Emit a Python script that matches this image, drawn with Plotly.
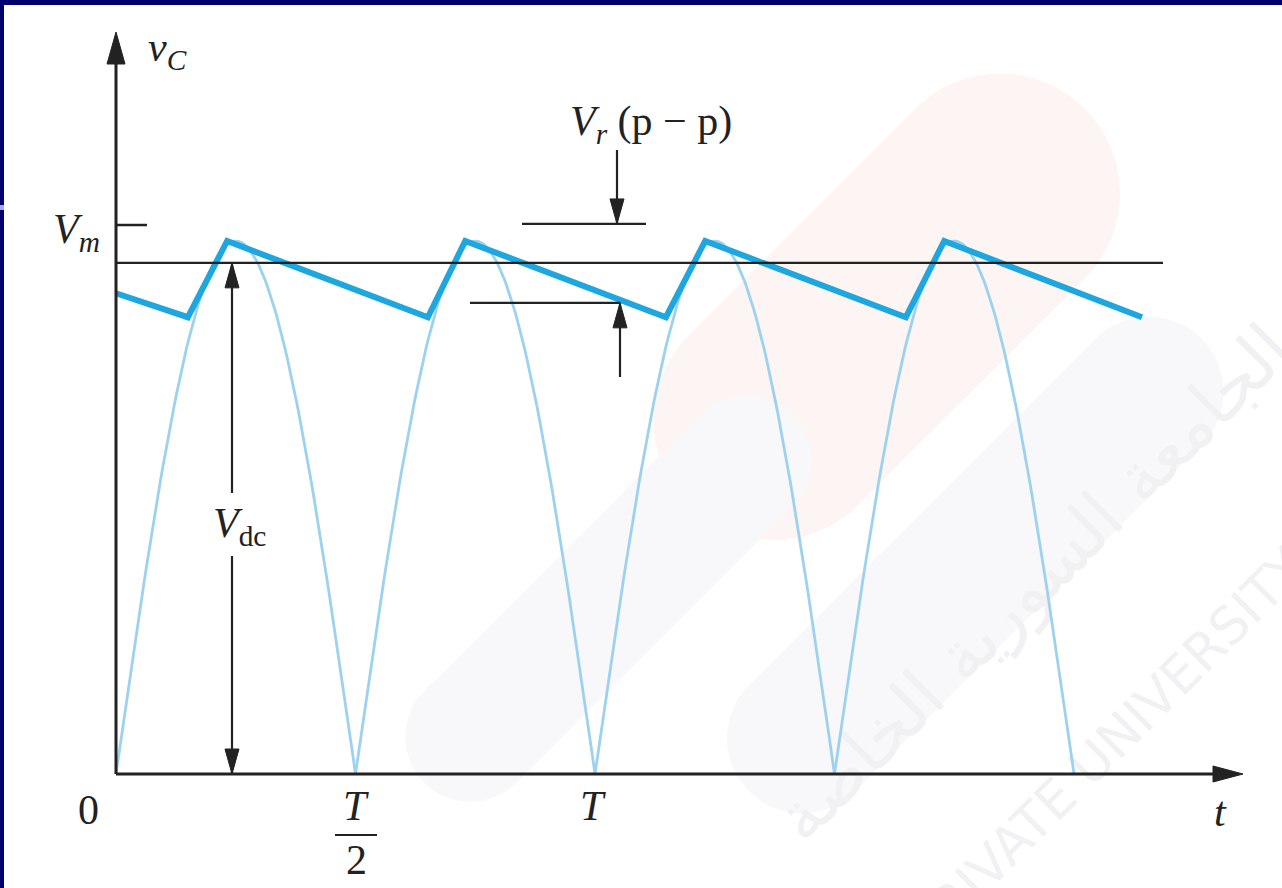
import base64
import numpy as np
import plotly.graph_objects as go

# ---- waveform values (time in units of T, voltage in units of Vm) ----
half_cycle_starts = [0.0, 0.5, 1.0, 1.5]      # zero crossings of the rectified wave
half_cycle_peaks = [1.0, 1.0, 1.0, 1.0]        # peak of each half cycle (Vm)

ripple_t = [0.0, 0.150, 0.232, 0.651, 0.729, 1.148, 1.230, 1.649, 1.729, 2.142]
ripple_v = [0.902, 0.857, 1.0, 0.857, 1.0, 0.857, 1.0, 0.857, 1.0, 0.857]

v_dc = 0.959          # average level line
v_m_mark = 1.03       # Vm tick on the vertical axis
vr_top = 1.032        # upper reference of the peak-to-peak ripple
vr_bottom = 0.884     # lower reference of the peak-to-peak ripple

# ---- canvas geometry ----
W, H = 1282, 888
X0_PX, T_PX = 116, 479        # pixel of t=0 and pixels per period
Y0_PX, V_PX = 774, 533        # pixel of v=0 and pixels per Vm


def X(px):
    return (px - X0_PX) / T_PX


def Y(py):
    return (Y0_PX - py) / V_PX


INK = "#222222"
LIGHT = "#9dd2ee"
BLUE = "#1ea6df"
SERIF = "Liberation Serif, Times New Roman, serif"

fig = go.Figure()

# rectified sine humps
for t0, pk in zip(half_cycle_starts, half_cycle_peaks):
    tt = np.linspace(t0, t0 + 0.5, 120)
    fig.add_trace(go.Scatter(x=tt, y=pk * np.abs(np.sin(2 * np.pi * (tt - t0))),
                             mode="lines", line=dict(color=LIGHT, width=2.8),
                             hoverinfo="skip", showlegend=False))

# capacitor voltage with ripple
fig.add_trace(go.Scatter(x=ripple_t, y=ripple_v, mode="lines",
                         line=dict(color=BLUE, width=6), hoverinfo="skip",
                         showlegend=False))

shapes = []


def line(x0, y0, x1, y1, w=2.2):
    shapes.append(dict(type="line", xref="x", yref="y", x0=x0, y0=y0, x1=x1, y1=y1,
                       line=dict(color=INK, width=w), layer="above"))


def head(x, y, direction, length=25, half=7):
    # filled arrowhead with its tip at (x, y), sized in pixels
    if direction == "up":
        p = f"M0,0 L{-half},{-length} L{half},{-length} Z"
    elif direction == "down":
        p = f"M0,0 L{-half},{length} L{half},{length} Z"
    else:  # right
        p = f"M0,0 L{-length},{half} L{-length},{-half} Z"
    shapes.append(dict(type="path", xref="x", yref="y", xsizemode="pixel",
                       ysizemode="pixel", xanchor=x, yanchor=y, path=p,
                       fillcolor=INK, line=dict(color=INK, width=1), layer="above"))


# axes with arrowheads
t_end = X(1243)
v_end = Y(32)
line(0, 0, 0, v_end - 0.04, w=3)
line(0, 0, t_end - 0.04, 0, w=3)
head(0, v_end, "up", length=32, half=9)
head(t_end, 0, "right", length=30, half=8)

# Vm tick and Vdc level
line(0, v_m_mark, X(147), v_m_mark, w=2.5)
line(0, v_dc, X(1163), v_dc, w=2.2)

# Vdc dimension arrow, interrupted by its label
x_dc = X(232)
line(x_dc, v_dc, x_dc, Y(493))
line(x_dc, Y(556), x_dc, 0)
head(x_dc, v_dc, "up")
head(x_dc, 0, "down")

# ripple peak-to-peak markers
line(X(522), vr_top, X(646), vr_top)
line(X(617), Y(150), X(617), vr_top)
head(X(617), vr_top, "down")
line(X(470), vr_bottom, X(620), vr_bottom)
line(X(620), Y(377), X(620), vr_bottom)
head(X(620), vr_bottom, "up")

# T/2 fraction bar
line(X(335), Y(835), X(377), Y(835), w=2.2)

# frame of the slide
NAVY = "#00006e"
shapes += [
    dict(type="rect", xref="paper", yref="paper", x0=0, x1=1, y0=1 - 5 / H, y1=1,
         fillcolor=NAVY, line=dict(width=0), layer="above"),
    dict(type="rect", xref="paper", yref="paper", x0=0, x1=4 / W, y0=0, y1=1,
         fillcolor=NAVY, line=dict(width=0), layer="above"),
    dict(type="rect", xref="paper", yref="paper", x0=0, x1=4 / W,
         y0=1 - 210 / H, y1=1 - 205 / H, fillcolor="#a4a8e0",
         line=dict(width=0), layer="above"),
]

annotations = []


def text(px, py, s, xanchor="center", size=42):
    annotations.append(dict(x=X(px), y=Y(py), xref="x", yref="y", text=s,
                            showarrow=False, xanchor=xanchor, yanchor="middle",
                            font=dict(family=SERIF, size=size, color=INK)))


text(146, 50, "<i>v</i><sub><i>C</i></sub>", xanchor="left")
text(102, 232, "<i>V</i><sub><i>m</i></sub>", xanchor="right")
text(568, 124, "<i>V</i><sub><i>r</i></sub> (p − p)", xanchor="left")
text(239, 526, "<i>V</i><sub>dc</sub>")
text(88, 810, "0")
text(356, 806, "<i>T</i>")
text(356, 860, "2")
text(593, 806, "<i>T</i>")
text(1220, 812, "<i>t</i>")

# faint institutional watermark behind the drawing
svg = f"""<svg xmlns='http://www.w3.org/2000/svg' width='{W}' height='{H}' viewBox='0 0 {W} {H}'>
<g transform='rotate(-45 1000 420)'>
<rect x='720' y='140' width='560' height='240' rx='120' fill='#fdf4f4'/>
<rect x='560' y='430' width='640' height='150' rx='75' fill='#f8f8fa'/>
</g>
<g transform='rotate(-45 640 560)'>
<rect x='330' y='500' width='520' height='130' rx='65' fill='#f8f8fa'/>
</g>
<text x='1050' y='600' font-family='DejaVu Sans' font-size='70' fill='#f1f1f4'
 text-anchor='middle' transform='rotate(-45 1050 600)'>الجامعة السورية الخاصة</text>
<text x='1120' y='760' font-family='DejaVu Sans' font-size='52' fill='#f1f1f4'
 text-anchor='middle' transform='rotate(-45 1120 760)'>PRIVATE UNIVERSITY</text>
</svg>"""
uri = "data:image/svg+xml;base64," + base64.b64encode(svg.encode("utf-8")).decode()

fig.update_layout(
    width=W, height=H,
    margin=dict(l=0, r=0, t=0, b=0),
    paper_bgcolor="white", plot_bgcolor="rgba(0,0,0,0)",
    xaxis=dict(range=[X(0), X(W)], visible=False, fixedrange=True),
    yaxis=dict(range=[Y(H), Y(0)], visible=False, fixedrange=True),
    shapes=shapes, annotations=annotations, showlegend=False,
    images=[dict(source=uri, xref="paper", yref="paper", x=0, y=1, sizex=1, sizey=1,
                 xanchor="left", yanchor="top", sizing="stretch", layer="below")],
)

fig.write_html("out.html")
